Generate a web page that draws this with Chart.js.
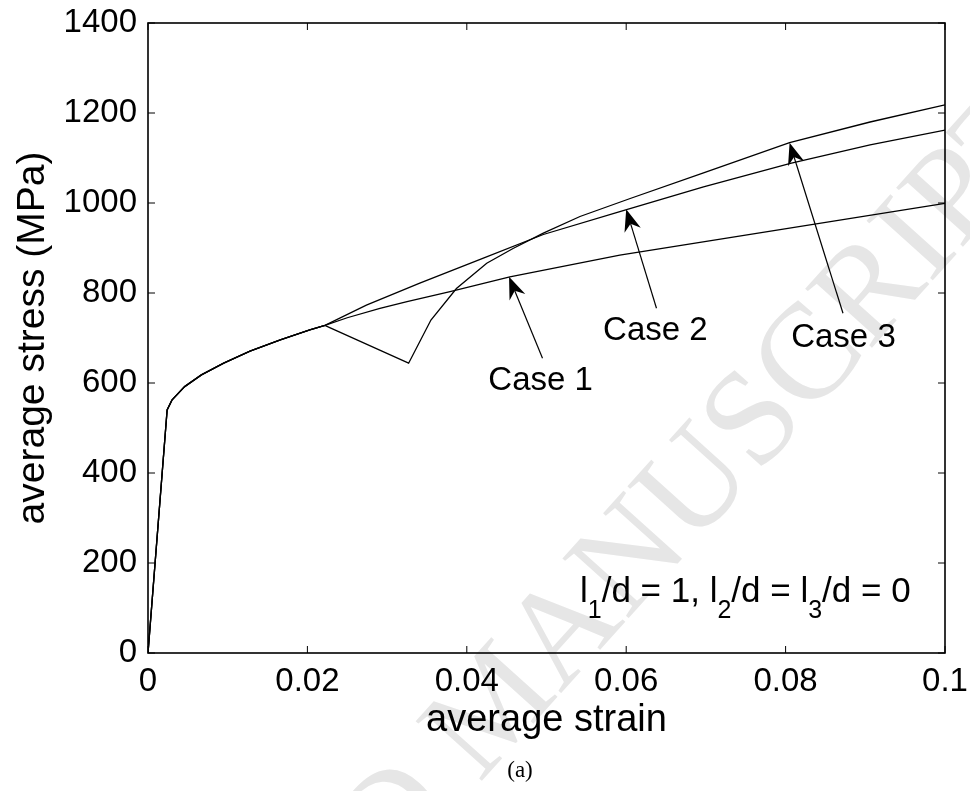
<!DOCTYPE html>
<html>
<head>
<meta charset="utf-8">
<script src="https://cdn.jsdelivr.net/npm/chart.js@4.4.1/dist/chart.umd.min.js"></script>
<style>
html, body { margin: 0; padding: 0; background: #fff; }
#wrap { width: 970px; height: 791px; }
</style>
</head>
<body>
<div id="wrap"><canvas id="chart"></canvas></div>
<script>
// loading branch shared by all three cases (elastic + early hardening)
var loadStrain = [0, 0.0024, 0.0030, 0.0046, 0.0067, 0.0095, 0.0128, 0.0166, 0.0203, 0.0222];
var loadStress = [0, 540, 562, 592, 618, 644, 671, 696, 718, 728];

// branches after the split
var case1Strain = [0.0250, 0.0291, 0.0325, 0.0379, 0.0454, 0.0592, 0.0801, 0.1];
var case1Stress = [745, 766, 781, 803, 836, 884, 943, 999];

var case2Strain = [0.0274, 0.0341, 0.0420, 0.0496, 0.0592, 0.0697, 0.0806, 0.0906, 0.1];
var case2Stress = [773, 822, 877, 930, 981, 1036, 1088, 1129, 1162];

var case3Strain = [0.0228, 0.0327, 0.0355, 0.0387, 0.0425, 0.0458, 0.0496, 0.0542, 0.0605, 0.0697, 0.0805, 0.0906, 0.1];
var case3Stress = [723, 644, 740, 810, 866, 899, 933, 970, 1010, 1067, 1134, 1180, 1218];

var xTicks = [0, 0.02, 0.04, 0.06, 0.08, 0.1];
var yTicks = [0, 200, 400, 600, 800, 1000, 1200, 1400];

// arrow annotations, in (strain, stress)
var caseNames = ['Case 1', 'Case 2', 'Case 3'];
var caseLabelAt = [[0.0427, 584], [0.0571, 696], [0.0807, 680]];
var arrowTail = [[0.0495, 655], [0.0638, 766], [0.0872, 755]];
var arrowTip = [[0.0453, 836], [0.0600, 986], [0.0805, 1134]];

var SANS = '"Liberation Sans", Arial, Helvetica, sans-serif';

function series(xs, ys) {
    return xs.map(function (x, i) { return {x: x, y: ys[i]}; });
}

function withLoad(xs, ys) {
    return series(loadStrain, loadStress).concat(series(xs, ys));
}

function line(label, data) {
    return {
        label: label,
        data: data,
        showLine: true,
        borderColor: '#000',
        borderWidth: 1.3,
        pointRadius: 0,
        fill: false,
        tension: 0
    };
}

// faint diagonal watermark behind the plot
var watermark = {
    id: 'watermark',
    beforeDraw: function (chart) {
        var ctx = chart.ctx;
        var size = 136;
        ctx.save();
        ctx.font = size + 'px "Liberation Serif", "Times New Roman", serif';
        ctx.fillStyle = '#e6e6e6';
        ctx.translate(805, 355);
        ctx.rotate(-48 * Math.PI / 180);
        var pre = ctx.measureText('ACCEPTED MANUS').width;
        var c = ctx.measureText('C').width;
        ctx.textBaseline = 'alphabetic';
        ctx.fillText('ACCEPTED MANUSCRIPT', -pre - c / 2, 0.33 * size);
        ctx.restore();
    }
};

// box axes with inward ticks on all four sides
var frame = {
    id: 'frame',
    afterDraw: function (chart) {
        var ctx = chart.ctx, a = chart.chartArea;
        var sx = chart.scales.x, sy = chart.scales.y;
        var t = 7;
        ctx.save();
        ctx.strokeStyle = '#000';
        ctx.lineWidth = 1;
        ctx.beginPath();
        xTicks.forEach(function (v) {
            var px = sx.getPixelForValue(v);
            ctx.moveTo(px, a.bottom); ctx.lineTo(px, a.bottom - t);
            ctx.moveTo(px, a.top); ctx.lineTo(px, a.top + t);
        });
        yTicks.forEach(function (v) {
            var py = sy.getPixelForValue(v);
            ctx.moveTo(a.left, py); ctx.lineTo(a.left + t, py);
            ctx.moveTo(a.right, py); ctx.lineTo(a.right - t, py);
        });
        ctx.stroke();
        ctx.lineWidth = 1.6;
        ctx.strokeRect(a.left, a.top, a.right - a.left, a.bottom - a.top);

        // sub-figure caption
        ctx.fillStyle = '#000';
        ctx.font = '23px "Liberation Serif", "Times New Roman", serif';
        ctx.textAlign = 'center';
        ctx.textBaseline = 'middle';
        ctx.fillText('(a)', 520, 771);
        ctx.restore();
    }
};

function drawArrow(ctx, x0, y0, x1, y1) {
    var dx = x1 - x0, dy = y1 - y0;
    var len = Math.sqrt(dx * dx + dy * dy);
    var ux = dx / len, uy = dy / len;
    var px = -uy, py = ux;
    var hl = 22, hw = 8.5, notch = 15;
    ctx.beginPath();
    ctx.moveTo(x0, y0);
    ctx.lineTo(x1 - ux * notch, y1 - uy * notch);
    ctx.stroke();
    ctx.beginPath();
    ctx.moveTo(x1, y1);
    ctx.lineTo(x1 - ux * hl + px * hw, y1 - uy * hl + py * hw);
    ctx.lineTo(x1 - ux * notch, y1 - uy * notch);
    ctx.lineTo(x1 - ux * hl - px * hw, y1 - uy * hl - py * hw);
    ctx.closePath();
    ctx.fill();
}

// "Case n" arrows and the geometry note
var notes = {
    id: 'notes',
    afterDatasetsDraw: function (chart) {
        var ctx = chart.ctx;
        var sx = chart.scales.x, sy = chart.scales.y;
        ctx.save();
        ctx.strokeStyle = '#000';
        ctx.fillStyle = '#000';
        ctx.lineWidth = 1.2;
        caseNames.forEach(function (name, i) {
            drawArrow(ctx,
                sx.getPixelForValue(arrowTail[i][0]), sy.getPixelForValue(arrowTail[i][1]),
                sx.getPixelForValue(arrowTip[i][0]), sy.getPixelForValue(arrowTip[i][1]));
            ctx.font = '33px ' + SANS;
            ctx.textAlign = 'left';
            ctx.textBaseline = 'alphabetic';
            ctx.fillText(name, sx.getPixelForValue(caseLabelAt[i][0]), sy.getPixelForValue(caseLabelAt[i][1]));
        });

        // l1/d = 1, l2/d = l3/d = 0 with subscripts
        var parts = [['l', 0], ['1', 1], ['/d = 1, l', 0], ['2', 1], ['/d = l', 0], ['3', 1], ['/d = 0', 0]];
        var x = sx.getPixelForValue(0.0542);
        var y = sy.getPixelForValue(113);
        parts.forEach(function (p) {
            ctx.font = (p[1] ? '25px ' : '35px ') + SANS;
            ctx.fillText(p[0], x, y + (p[1] ? 16 : 0));
            x += ctx.measureText(p[0]).width;
        });
        ctx.restore();
    }
};

var ctx = document.getElementById('chart').getContext('2d');
var chart = new Chart(ctx, {
    type: 'scatter',
    data: {
        datasets: [
            line('Case 1', withLoad(case1Strain, case1Stress)),
            line('Case 2', withLoad(case2Strain, case2Stress)),
            line('Case 3', withLoad(case3Strain, case3Stress))
        ]
    },
    options: {
        responsive: true,
        maintainAspectRatio: false,
        animation: false,
        layout: { padding: { left: 0, top: 23, right: 25, bottom: 0 } },
        plugins: {
            legend: { display: false },
            tooltip: { enabled: false }
        },
        scales: {
            x: {
                type: 'linear',
                min: 0,
                max: 0.1,
                afterFit: function (scale) { scale.height = 138; },
                afterBuildTicks: function (scale) {
                    scale.ticks = xTicks.map(function (v) { return {value: v}; });
                },
                // tick marks are drawn inward by the frame plugin; tickLength only spaces the labels
                grid: { display: false, drawTicks: true, tickLength: 9 },
                border: { display: false },
                ticks: {
                    padding: 0,
                    maxRotation: 0,
                    color: '#000',
                    font: { family: SANS, size: 33 },
                    callback: function (v) { return String(+v.toFixed(2)); }
                },
                title: {
                    display: true,
                    text: 'average strain',
                    color: '#000',
                    font: { family: SANS, size: 38 },
                    padding: { top: 0, bottom: 48 }
                }
            },
            y: {
                type: 'linear',
                min: 0,
                max: 1400,
                afterFit: function (scale) { scale.width = 148; },
                afterBuildTicks: function (scale) {
                    scale.ticks = yTicks.map(function (v) { return {value: v}; });
                },
                grid: { display: false, drawTicks: true, tickLength: 11 },
                border: { display: false },
                ticks: {
                    padding: 0,
                    color: '#000',
                    font: { family: SANS, size: 33 },
                    callback: function (v) { return String(v); }
                },
                title: {
                    display: true,
                    text: 'average stress (MPa)',
                    color: '#000',
                    font: { family: SANS, size: 39 },
                    padding: { top: 10, bottom: 0 }
                }
            }
        }
    },
    plugins: [watermark, frame, notes]
});
</script>
</body>
</html>
